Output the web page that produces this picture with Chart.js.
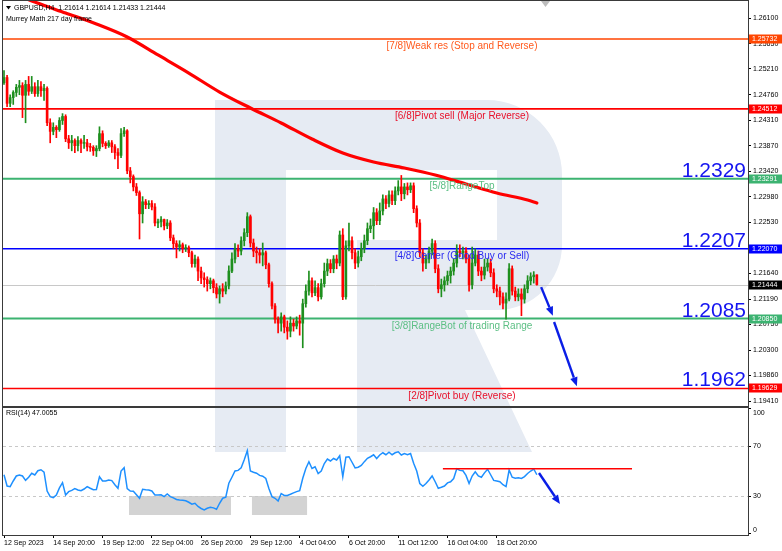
<!DOCTYPE html>
<html>
<head>
<meta charset="utf-8">
<script src="https://cdn.jsdelivr.net/npm/chart.js@4.4.0/dist/chart.umd.min.js"></script>
<style>
  html, body { margin: 0; padding: 0; background: #fff; }
  #wrap { position: relative; width: 782px; height: 551px; overflow: hidden; background: #fff; }
  #price { position: absolute; left: 0; top: 0; }
  #rsi { position: absolute; left: 0; top: 407px; }
</style>
</head>
<body>
<div id="wrap">
  <canvas id="price" width="782" height="407"></canvas>
  <canvas id="rsi" width="782" height="144"></canvas>
</div>
<script>
// GBPUSD H4 candles, one entry per bar (12 Sep 2023 -> 20 Oct 2023)
const opens = [
  1.2497,1.2506,1.2461,1.2471,1.2480,1.2489,1.2492,1.2475,1.2494,1.2482,
  1.2490,1.2478,1.2490,1.2483,1.2487,1.2427,1.2412,1.2419,1.2415,1.2431,
  1.2438,1.2399,1.2392,1.2396,1.2387,1.2396,1.2391,1.2392,1.2385,1.2384,
  1.2378,1.2382,1.2408,1.2391,1.2387,1.2392,1.2385,1.2375,1.2370,1.2408,
  1.2413,1.2343,1.2333,1.2315,1.2305,1.2268,1.2289,1.2284,1.2286,1.2280,
  1.2252,1.2254,1.2258,1.2247,1.2252,1.2226,1.2216,1.2210,1.2214,1.2207,
  1.2209,1.2200,1.2181,1.2189,1.2168,1.2156,1.2153,1.2146,1.2151,1.2139,
  1.2128,1.2137,1.2133,1.2142,1.2168,1.2189,1.2207,1.2203,1.2221,1.2235,
  1.2263,1.2217,1.2203,1.2200,1.2196,1.2200,1.2179,1.2146,1.2107,1.2084,
  1.2077,1.2088,1.2070,1.2063,1.2077,1.2072,1.2081,1.2077,1.2111,1.2133,
  1.2151,1.2130,1.2139,1.2123,1.2146,1.2168,1.2181,1.2172,1.2189,1.2182,
  1.2231,1.2123,1.2212,1.2221,1.2200,1.2182,1.2193,1.2207,1.2221,1.2242,
  1.2247,1.2270,1.2256,1.2273,1.2294,1.2286,1.2301,1.2291,1.2308,1.2315,
  1.2303,1.2315,1.2310,1.2317,1.2277,1.2252,1.2200,1.2182,1.2189,1.2203,
  1.2216,1.2172,1.2137,1.2144,1.2151,1.2160,1.2168,1.2182,1.2203,1.2200,
  1.2203,1.2189,1.2144,1.2182,1.2196,1.2168,1.2161,1.2175,1.2182,1.2165,
  1.2137,1.2133,1.2123,1.2112,1.2119,1.2172,1.2133,1.2123,1.2128,1.2119,
  1.2137,1.2151,1.2158,1.21614
];
const highs = [
  1.2518,1.2510,1.2476,1.2483,1.2494,1.2501,1.2497,1.2501,1.2508,1.2508,
  1.2497,1.2501,1.2499,1.2494,1.2490,1.2434,1.2427,1.2422,1.2436,1.2443,
  1.2441,1.2405,1.2405,1.2399,1.2403,1.2399,1.2405,1.2398,1.2391,1.2387,
  1.2387,1.2420,1.2413,1.2394,1.2396,1.2396,1.2389,1.2382,1.2417,1.2419,
  1.2415,1.2349,1.2336,1.2321,1.2308,1.2298,1.2293,1.2291,1.2291,1.2286,
  1.2259,1.2263,1.2259,1.2258,1.2256,1.2231,1.2221,1.2221,1.2217,1.2214,
  1.2212,1.2203,1.2196,1.2193,1.2175,1.2165,1.2158,1.2156,1.2154,1.2146,
  1.2142,1.2146,1.2149,1.2177,1.2200,1.2216,1.2214,1.2228,1.2242,1.2270,
  1.2266,1.2224,1.2210,1.2207,1.2217,1.2203,1.2182,1.2149,1.2111,1.2088,
  1.2095,1.2091,1.2081,1.2088,1.2084,1.2088,1.2091,1.2119,1.2144,1.2168,
  1.2156,1.2151,1.2146,1.2154,1.2182,1.2189,1.2188,1.2195,1.2196,1.2238,
  1.2242,1.2221,1.2252,1.2228,1.2207,1.2203,1.2217,1.2231,1.2252,1.2259,
  1.2279,1.2277,1.2287,1.2301,1.2300,1.2308,1.2308,1.2315,1.2326,1.2335,
  1.2321,1.2322,1.2322,1.2322,1.2282,1.2258,1.2207,1.2196,1.2210,1.2224,
  1.2221,1.2179,1.2154,1.2158,1.2168,1.2175,1.2189,1.2214,1.2214,1.2210,
  1.2209,1.2196,1.2210,1.2207,1.2203,1.2175,1.2189,1.2189,1.2189,1.2172,
  1.2144,1.2140,1.2130,1.2130,1.2181,1.2177,1.2140,1.2137,1.2137,1.2144,
  1.2160,1.2165,1.2167,1.21614
];
const lows = [
  1.2494,1.2455,1.2455,1.2459,1.2473,1.2476,1.2436,1.2427,1.2475,1.2478,
  1.2473,1.2473,1.2473,1.2466,1.2422,1.2392,1.2406,1.2401,1.2412,1.2424,
  1.2394,1.2382,1.2378,1.2375,1.2378,1.2375,1.2382,1.2378,1.2377,1.2370,
  1.2368,1.2378,1.2385,1.2382,1.2384,1.2375,1.2364,1.2347,1.2366,1.2403,
  1.2338,1.2322,1.2308,1.2300,1.2224,1.2252,1.2277,1.2277,1.2275,1.2247,
  1.2244,1.2245,1.2240,1.2242,1.2221,1.2207,1.2191,1.2203,1.2200,1.2202,
  1.2193,1.2175,1.2175,1.2151,1.2146,1.2140,1.2133,1.2137,1.2130,1.2121,
  1.2112,1.2123,1.2128,1.2137,1.2165,1.2182,1.2193,1.2196,1.2212,1.2228,
  1.2210,1.2193,1.2182,1.2182,1.2177,1.2172,1.2140,1.2102,1.2077,1.2060,
  1.2063,1.2060,1.2049,1.2053,1.2063,1.2067,1.2056,1.2034,1.2105,1.2126,
  1.2123,1.2125,1.2116,1.2119,1.2140,1.2160,1.2165,1.2165,1.2172,1.2177,
  1.2118,1.2119,1.2203,1.2189,1.2172,1.2175,1.2186,1.2200,1.2214,1.2235,
  1.2224,1.2249,1.2249,1.2266,1.2277,1.2280,1.2284,1.2284,1.2301,1.2291,
  1.2294,1.2301,1.2305,1.2270,1.2245,1.2193,1.2168,1.2172,1.2182,1.2196,
  1.2165,1.2130,1.2123,1.2133,1.2144,1.2147,1.2161,1.2175,1.2193,1.2189,
  1.2182,1.2133,1.2137,1.2177,1.2160,1.2151,1.2154,1.2168,1.2158,1.2130,
  1.2123,1.2109,1.2102,1.2084,1.2116,1.2126,1.2116,1.2116,1.2090,1.2112,
  1.2130,1.2144,1.2147,1.21433
];
const closes = [
  1.2506,1.2461,1.2471,1.2480,1.2489,1.2492,1.2475,1.2494,1.2482,1.2490,
  1.2478,1.2490,1.2483,1.2487,1.2427,1.2412,1.2419,1.2415,1.2431,1.2438,
  1.2399,1.2392,1.2396,1.2387,1.2396,1.2391,1.2392,1.2385,1.2384,1.2378,
  1.2382,1.2408,1.2391,1.2387,1.2392,1.2385,1.2375,1.2370,1.2408,1.2413,
  1.2343,1.2333,1.2315,1.2305,1.2268,1.2289,1.2284,1.2286,1.2280,1.2252,
  1.2254,1.2258,1.2247,1.2252,1.2226,1.2216,1.2210,1.2214,1.2207,1.2209,
  1.2200,1.2181,1.2189,1.2168,1.2156,1.2153,1.2146,1.2151,1.2139,1.2128,
  1.2137,1.2133,1.2142,1.2168,1.2189,1.2207,1.2203,1.2221,1.2235,1.2263,
  1.2217,1.2203,1.2200,1.2196,1.2200,1.2179,1.2146,1.2107,1.2084,1.2077,
  1.2088,1.2070,1.2063,1.2077,1.2072,1.2081,1.2077,1.2111,1.2133,1.2151,
  1.2130,1.2139,1.2123,1.2146,1.2168,1.2181,1.2172,1.2189,1.2182,1.2231,
  1.2123,1.2212,1.2221,1.2200,1.2182,1.2193,1.2207,1.2221,1.2242,1.2247,
  1.2270,1.2256,1.2273,1.2294,1.2286,1.2301,1.2291,1.2308,1.2315,1.2303,
  1.2315,1.2310,1.2317,1.2277,1.2252,1.2200,1.2182,1.2189,1.2203,1.2216,
  1.2172,1.2137,1.2144,1.2151,1.2160,1.2168,1.2182,1.2203,1.2200,1.2203,
  1.2189,1.2144,1.2182,1.2196,1.2168,1.2161,1.2175,1.2182,1.2165,1.2137,
  1.2133,1.2123,1.2112,1.2119,1.2172,1.2133,1.2123,1.2128,1.2119,1.2137,
  1.2151,1.2158,1.2161,1.21444
];

// "Murrey Math 217 day frame" moving average (red curve), sampled bars
const maIdx = [0, 10, 20, 30, 40, 50, 60, 70, 80, 90, 100, 110, 120, 130, 140, 150, 160, 170, 173];
const maVal = [1.26589, 1.26379, 1.26187, 1.25995, 1.25768, 1.25454, 1.25139, 1.24807, 1.24528, 1.24266,
               1.23986, 1.23742, 1.23585, 1.23480, 1.23358, 1.23200, 1.23043, 1.22921, 1.22869];

// Murrey levels
const levelPrice = [1.25732, 1.24512, 1.23291, 1.22070, 1.20850, 1.19629];
const levelText = ['[7/8]Weak res (Stop and Reverse)', '[6/8]Pivot sell (Major Reverse)', '[5/8]RangeTop',
                   '[4/8]Center (Good Buy or Sell)', '[3/8]RangeBot of trading Range', '[2/8]Pivot buy (Reverse)'];
const levelBig = ['', '', '1.2329', '1.2207', '1.2085', '1.1962'];

// forecast arrows on the price pane: [bar, price] -> [bar, price]
const priceArrows = [
  [[174.4, 1.2140], [178.2, 1.2090]],
  [[178.6, 1.2079], [186.0, 1.1967]]
];

// RSI(14)
const rsi14 = [
  47, 38, 37.5, 42, 46, 46.8, 46, 42.5, 45, 48.2,
  46.8, 50.2, 51, 49, 34, 29.5, 28.7, 30.8, 36.5, 40.7,
  30.8, 33.5, 34.5, 36, 34.8, 34.2, 35.6, 37.5, 36.2, 35,
  35.2, 45.4, 42, 42, 42.8, 42.3, 39, 36.2, 50, 52.6,
  36, 34, 33.8, 31, 28.2, 35.4, 35, 34.8, 34, 30.8,
  30.8, 31, 29.5, 31.6, 29.5, 28.5, 27.2, 26.8, 26.6, 26.2,
  25, 23.4, 24.2, 21.6, 20, 18.8, 20.2, 21, 20.5, 19.4,
  24.2, 28.2, 29, 40.2, 45, 50, 50.5, 52.5, 59, 66.2,
  50, 49, 48.2, 46.5, 45.8, 44, 36, 29.5, 28.2, 26,
  32, 30.5, 30.5, 31.4, 32.5, 33.5, 34.2, 44.2, 52, 57.4,
  52, 53.4, 48, 50, 56, 59.5, 58, 60, 58.8, 62.2,
  45.4, 61, 61.4, 57, 52.5, 53, 54.5, 57.5, 60.2, 61.4,
  63, 60, 62.8, 64.6, 63, 65, 63, 64.6, 65.4, 62.8,
  64, 63, 64, 56.2, 50, 40, 37.8, 40, 42.8, 46,
  41.4, 36.2, 37, 38, 40.5, 41.4, 44, 51.8, 50.5, 50.2,
  46.5, 40, 46, 49.4, 46, 45, 48.5, 51.4, 47, 42.5,
  42, 41.4, 39, 37.5, 50.8, 45, 44.2, 44.5, 44, 45.5,
  48, 50, 51.6, 47.0055
];
const rsiLevels = [70, 30];
const rsiTicks = [100, 70, 30, 0];
const rsiResistance = [[142.5, 51.8], [203.9, 51.8]];
const rsiArrow = [[173.7, 48.4], [180.5, 23.6]];
const rsiBoxes = [[40.6, 73.7, 14.8, 30], [80.5, 98.4, 14.8, 30]];   // bar from, bar to, rsi low, rsi high

// axes
const priceTicks = [1.26100, 1.25650, 1.25210, 1.24760, 1.24310, 1.23870, 1.23420, 1.22980, 1.22530,
                    1.22090, 1.21640, 1.21190, 1.20750, 1.20300, 1.19860, 1.19410];
const timeIdx = [0, 16, 32, 48, 64, 80, 96, 112, 128, 144, 160];
const timeLabels = ['12 Sep 2023', '14 Sep 20:00', '19 Sep 12:00', '22 Sep 04:00', '26 Sep 20:00', '29 Sep 12:00',
                    '4 Oct 04:00', '6 Oct 20:00', '11 Oct 12:00', '16 Oct 04:00', '18 Oct 20:00'];

const xMin = -0.325, xMax = 241.56;
const yMin = 1.19323, yMax = 1.26397;

const FONT = "'Liberation Sans', Arial, sans-serif";
Chart.defaults.font.family = FONT;
Chart.defaults.font.size = 7;
Chart.defaults.color = '#000';

const bull = '#1E8F1E', bear = '#FF0000';
const bars = opens.map((_, i) => i);
const candleColor = bars.map(i => closes[i] >= opens[i] ? bull : bear);
const lastClose = closes[closes.length - 1];

const levelColor = ['#FF4500', '#FF0000', '#3CB371', '#0000FF', '#3CB371', '#FF0000'];
const levelTextColor = ['#FF5A1E', '#E8102A', '#5CBF84', '#2A2AF0', '#5CBF84', '#E8102A'];

// RoboForex style "R" watermark, page coordinates
function drawLogo(ctx, a, dy) {
  ctx.save();
  ctx.beginPath();
  ctx.rect(a.left, a.top, a.right - a.left, a.bottom - a.top);
  ctx.clip();
  ctx.translate(0, -dy);
  ctx.beginPath();
  ctx.moveTo(215, 100);
  ctx.lineTo(487, 100);
  ctx.arcTo(562, 100, 562, 175, 75);
  ctx.lineTo(562, 245);
  ctx.arcTo(562, 310, 497, 310, 65);
  ctx.lineTo(465, 310);
  ctx.lineTo(532, 452);
  ctx.lineTo(357, 452);
  ctx.lineTo(357, 240);
  ctx.lineTo(286, 240);
  ctx.lineTo(286, 452);
  ctx.lineTo(215, 452);
  ctx.closePath();
  ctx.rect(286, 170, 211, 70);
  ctx.fillStyle = '#E6EBF3';
  ctx.fill('evenodd');
  ctx.restore();
}

function arrow(ctx, x0, y0, x1, y1, color, w, head) {
  const ang = Math.atan2(y1 - y0, x1 - x0);
  const bx = x1 - head * Math.cos(ang), by = y1 - head * Math.sin(ang);
  const hw = head * 0.42;
  ctx.save();
  ctx.strokeStyle = color;
  ctx.lineWidth = w;
  ctx.beginPath();
  ctx.moveTo(x0, y0);
  ctx.lineTo(bx, by);
  ctx.stroke();
  ctx.fillStyle = color;
  ctx.beginPath();
  ctx.moveTo(x1, y1);
  ctx.lineTo(bx + hw * Math.sin(ang), by - hw * Math.cos(ang));
  ctx.lineTo(bx - hw * Math.sin(ang), by + hw * Math.cos(ang));
  ctx.closePath();
  ctx.fill();
  ctx.restore();
}

function frame(ctx, a) {
  ctx.save();
  ctx.strokeStyle = '#3a3a3a';
  ctx.lineWidth = 1;
  ctx.strokeRect(Math.round(a.left) - 0.5, Math.round(a.top) - 0.5, Math.round(a.right - a.left) + 1, Math.round(a.bottom - a.top) + 1);
  ctx.restore();
}

function tag(ctx, y, text, bg) {
  ctx.save();
  ctx.fillStyle = bg;
  ctx.fillRect(749, Math.round(y) - 4.5, 33, 9);
  ctx.fillStyle = '#fff';
  ctx.font = '7px ' + FONT;
  ctx.textBaseline = 'middle';
  ctx.textAlign = 'left';
  ctx.fillText(text, 752, Math.round(y) + 0.5);
  ctx.restore();
}

const pricePlugin = {
  id: 'pricePane',
  beforeDatasetsDraw(chart) {
    const { ctx, chartArea: a, scales: { y } } = chart;
    drawLogo(ctx, a, 0);
    ctx.save();
    // current price line
    const yc = Math.round(y.getPixelForValue(lastClose)) + 0.5;
    ctx.strokeStyle = '#C8C8C8';
    ctx.lineWidth = 1;
    ctx.beginPath(); ctx.moveTo(a.left, yc); ctx.lineTo(a.right, yc); ctx.stroke();
    // Murrey level lines
    levelPrice.forEach((p, k) => {
      const yy = y.getPixelForValue(p);
      ctx.strokeStyle = levelColor[k];
      ctx.lineWidth = (k === 2 || k === 4) ? 2 : 1.6;
      ctx.beginPath(); ctx.moveTo(a.left, yy); ctx.lineTo(a.right, yy); ctx.stroke();
    });
    ctx.restore();
  },
  afterDatasetsDraw(chart) {
    const { ctx, scales: { x, y } } = chart;
    ctx.save();
    levelPrice.forEach((p, k) => {
      const yy = y.getPixelForValue(p);
      ctx.fillStyle = levelTextColor[k];
      ctx.font = '10px ' + FONT;
      ctx.textAlign = 'center';
      ctx.textBaseline = 'top';
      ctx.fillText(levelText[k], 462, yy + 2.5);
      if (levelBig[k]) {
        ctx.fillStyle = '#1414F0';
        ctx.font = '21px ' + FONT;
        ctx.textAlign = 'right';
        ctx.textBaseline = 'alphabetic';
        ctx.fillText(levelBig[k], 746, yy - 2);
      }
    });
    ctx.restore();
    priceArrows.forEach(([p0, p1]) => {
      arrow(ctx, x.getPixelForValue(p0[0]), y.getPixelForValue(p0[1]),
                 x.getPixelForValue(p1[0]), y.getPixelForValue(p1[1]), '#0A1EE6', 2.4, 9);
    });
  },
  afterDraw(chart) {
    const { ctx, chartArea: a, scales: { y } } = chart;
    frame(ctx, a);
    levelPrice.forEach((p, k) => tag(ctx, y.getPixelForValue(p), p.toFixed(5), levelColor[k]));
    tag(ctx, y.getPixelForValue(lastClose), lastClose.toFixed(5), '#000');
    ctx.save();
    // chart shift marker
    ctx.fillStyle = '#BDBDBD';
    ctx.beginPath(); ctx.moveTo(541, 1); ctx.lineTo(550, 1); ctx.lineTo(545.5, 7); ctx.closePath(); ctx.fill();
    // header
    ctx.fillStyle = '#000';
    ctx.beginPath(); ctx.moveTo(6, 6); ctx.lineTo(11, 6); ctx.lineTo(8.5, 9.5); ctx.closePath(); ctx.fill();
    ctx.font = '7px ' + FONT;
    ctx.textBaseline = 'middle';
    ctx.textAlign = 'left';
    const n = closes.length - 1;
    ctx.fillText('GBPUSD,H4  ' + [opens[n], highs[n], lows[n], closes[n]].map(v => v.toFixed(5)).join(' '), 14, 8.5);
    ctx.fillText('Murrey Math 217 day frame', 6, 19.5);
    ctx.restore();
  }
};

new Chart(document.getElementById('price'), {
  type: 'bar',
  data: {
    datasets: [
      { type: 'line', data: maIdx.map((v, k) => ({ x: v, y: maVal[k] })), borderColor: '#FF0000', borderWidth: 3.2,
        pointRadius: 0, cubicInterpolationMode: 'monotone', borderCapStyle: 'round', order: 0 },
      { data: bars.map(i => ({ x: i, y: [lows[i], highs[i]] })), backgroundColor: candleColor,
        barThickness: 1, grouped: false, order: 2 },
      { data: bars.map(i => ({ x: i, y: [opens[i], closes[i]] })), backgroundColor: candleColor,
        barThickness: 2, minBarLength: 1, grouped: false, order: 1 }
    ]
  },
  options: {
    responsive: false, animation: false, events: [],
    layout: { padding: { left: 3, top: 1, right: 0, bottom: 1 } },
    plugins: { legend: { display: false }, tooltip: { enabled: false } },
    scales: {
      x: {
        type: 'linear', min: xMin, max: xMax, offset: false, display: true,
        afterFit: s => { s.height = 0; s.paddingLeft = 0; s.paddingRight = 0; },
        grid: { display: false }, border: { display: false }, ticks: { display: false }
      },
      y: {
        type: 'linear', position: 'right', min: yMin, max: yMax,
        afterBuildTicks: s => { s.ticks = priceTicks.map(v => ({ value: v })); },
        afterFit: s => { s.width = 34; s.paddingTop = 0; s.paddingBottom = 0; },
        grid: { drawOnChartArea: false, tickLength: 3, color: '#000' },
        border: { display: true, color: '#3a3a3a' },
        ticks: { autoSkip: false, padding: 2, font: { size: 7 }, callback: v => v.toFixed(5) }
      }
    }
  },
  plugins: [pricePlugin]
});

const rsiPlugin = {
  id: 'rsiPane',
  beforeDatasetsDraw(chart) {
    const { ctx, chartArea: a, scales: { x, y } } = chart;
    drawLogo(ctx, a, 407);
    ctx.save();
    ctx.fillStyle = '#D3D3D3';
    rsiBoxes.forEach(([b0, b1, lo, hi]) => {
      const x0 = x.getPixelForValue(b0), x1 = x.getPixelForValue(b1);
      const y0 = y.getPixelForValue(hi), y1 = y.getPixelForValue(lo);
      ctx.fillRect(x0, y0, x1 - x0, y1 - y0);
    });
    ctx.strokeStyle = '#C8C8C8';
    ctx.lineWidth = 1;
    ctx.setLineDash([3, 3]);
    rsiLevels.forEach(v => {
      const yy = Math.round(y.getPixelForValue(v)) + 0.5;
      ctx.beginPath(); ctx.moveTo(a.left, yy); ctx.lineTo(a.right, yy); ctx.stroke();
    });
    ctx.restore();
  },
  afterDatasetsDraw(chart) {
    const { ctx, scales: { x, y } } = chart;
    const [p0, p1] = rsiArrow;
    arrow(ctx, x.getPixelForValue(p0[0]), y.getPixelForValue(p0[1]),
               x.getPixelForValue(p1[0]), y.getPixelForValue(p1[1]), '#0A1EE6', 2.4, 9);
  },
  afterDraw(chart) {
    const { ctx, chartArea: a, scales: { y } } = chart;
    frame(ctx, a);
    ctx.save();
    ctx.fillStyle = '#000';
    ctx.font = '7px ' + FONT;
    ctx.textAlign = 'left';
    ctx.textBaseline = 'middle';
    rsiTicks.forEach(v => {
      const yy = Math.min(Math.max(y.getPixelForValue(v), a.top + 5), a.bottom - 5);
      ctx.fillText(String(v), 753, yy);
    });
    ctx.fillText('RSI(14) ' + rsi14[rsi14.length - 1].toFixed(4), 6, a.top + 5);
    ctx.restore();
  }
};

new Chart(document.getElementById('rsi'), {
  type: 'line',
  data: {
    datasets: [
      { data: bars.map(i => ({ x: i, y: rsi14[i] })), borderColor: '#1E90FF', borderWidth: 1.5, pointRadius: 0, tension: 0, order: 1 },
      { data: rsiResistance.map(p => ({ x: p[0], y: p[1] })), borderColor: '#FF0000', borderWidth: 1.5, pointRadius: 0, order: 0 }
    ]
  },
  options: {
    responsive: false, animation: false, events: [],
    layout: { padding: { left: 3, top: 1, right: 0, bottom: 0 } },
    plugins: { legend: { display: false }, tooltip: { enabled: false } },
    scales: {
      x: {
        type: 'linear', position: 'bottom', min: xMin, max: xMax, offset: false,
        afterBuildTicks: s => { s.ticks = timeIdx.map(v => ({ value: v })); },
        afterFit: s => { s.height = 16; s.paddingLeft = 0; s.paddingRight = 0; },
        grid: { drawOnChartArea: false, tickLength: 3, color: '#000' },
        border: { display: true, color: '#3a3a3a' },
        ticks: { autoSkip: false, maxRotation: 0, minRotation: 0, align: 'start', padding: 1,
                 font: { size: 7 }, callback: (v, k) => timeLabels[k] }
      },
      y: {
        type: 'linear', position: 'right', min: -1.2, max: 100.4,
        afterBuildTicks: s => { s.ticks = rsiTicks.map(v => ({ value: v })); },
        afterFit: s => { s.width = 34; s.paddingTop = 0; s.paddingBottom = 0; },
        grid: { drawOnChartArea: false, tickLength: 3, color: '#000' },
        border: { display: true, color: '#3a3a3a' },
        ticks: { display: false }
      }
    }
  },
  plugins: [rsiPlugin]
});
</script>
</body>
</html>
